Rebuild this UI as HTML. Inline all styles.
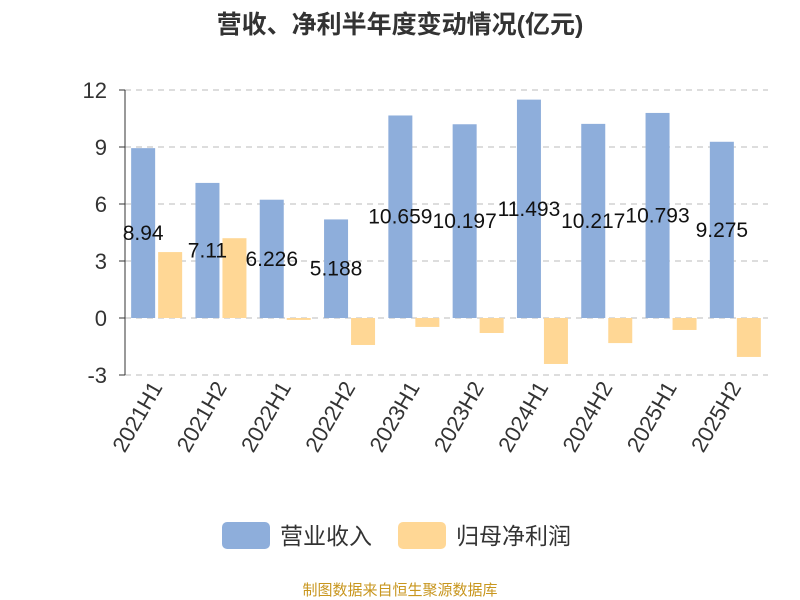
<!DOCTYPE html>
<html><head><meta charset="utf-8"><style>
body{margin:0;background:#fff;}
svg{display:block;font-family:"Liberation Sans","Noto Sans CJK SC",sans-serif;}
</style></head><body>
<svg id="chart" width="800" height="600">
<text x="400" y="33" text-anchor="middle" font-size="25" font-weight="bold" fill="#333">营收、净利半年度变动情况(亿元)</text>
<g id="grid"></g><g id="bars"></g><g id="labels"></g>
<g>
<rect x="222" y="522" width="48" height="27" rx="5" fill="#8eaedb"/>
<text x="280" y="544" font-size="23" fill="#333">营业收入</text>
<rect x="398" y="522" width="48" height="27" rx="5" fill="#ffd795"/>
<text x="456" y="544" font-size="23" fill="#333">归母净利润</text>
</g>
<text x="400" y="595" text-anchor="middle" font-size="15" fill="#c8961e">制图数据来自恒生聚源数据库</text>
</svg>
<script>
const categories=["2021H1","2021H2","2022H1","2022H2","2023H1","2023H2","2024H1","2024H2","2025H1","2025H2"];
const revenue=[8.94,7.11,6.226,5.188,10.659,10.197,11.493,10.217,10.793,9.275];
const profit=[3.47,4.2,-0.1,-1.42,-0.47,-0.79,-2.42,-1.32,-0.63,-2.05];
const revenueLabels=["8.94","7.11","6.226","5.188","10.659","10.197","11.493","10.217","10.793","9.275"];
const yTicks=[-3,0,3,6,9,12];
const NS="http://www.w3.org/2000/svg";
const x0=125,x1=768,bw=(x1-x0)/categories.length;
const y=v=>318-v*19;
function mk(t,a,p){const e=document.createElementNS(NS,t);for(const k in a)e.setAttribute(k,a[k]);p.appendChild(e);return e;}
const grid=document.getElementById('grid'),bars=document.getElementById('bars'),labels=document.getElementById('labels');
yTicks.forEach(t=>{
 const l=mk('line',{x1:x0,x2:x1,y1:y(t),y2:y(t),stroke:'#bbb','stroke-dasharray':'6,5'},grid);
 
 
 const tk=mk('line',{x1:x0-6,x2:x0,y1:y(t),y2:y(t),stroke:'#333'},grid);
 
 
 const tx=mk('text',{x:x0-18,y:y(t)+8,'text-anchor':'end','font-size':22,fill:'#333'},grid);
 tx.textContent=t;
 
 
});
const ax=mk('line',{x1:x0,x2:x0,y1:y(12),y2:y(-3),stroke:'#333'},grid);


categories.forEach((c,i)=>{
 const cx=x0+bw*i+bw/2;
 const r=mk('rect',{x:cx-26,y:Math.min(y(revenue[i]),y(0)),width:24,height:Math.abs(y(revenue[i])-y(0)),fill:'#8eaedb'},bars);
 
 
 const p=mk('rect',{x:cx+1,y:Math.min(y(profit[i]),y(0)),width:24,height:Math.max(1,Math.abs(y(profit[i])-y(0))),fill:'#ffd795'},bars);
 
 
 const lb=mk('text',{x:cx-14,y:y(revenue[i]/2)+7,'text-anchor':'middle','font-size':21,fill:'#111'},labels);
 lb.textContent=revenueLabels[i];
 
 
 const xl=mk('text',{x:0,y:0,'text-anchor':'end','font-size':22,fill:'#333',transform:`translate(${cx+6},${y(-3)+12}) rotate(-60)`},labels);
 xl.textContent=c;
 
 
});
</script>
</body></html>
